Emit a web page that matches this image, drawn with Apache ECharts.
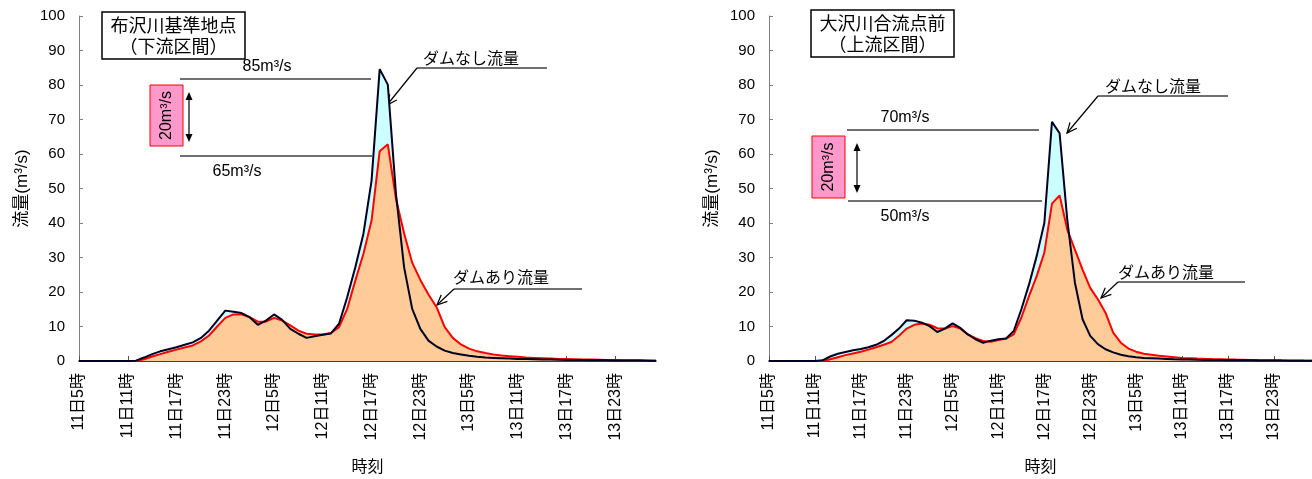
<!DOCTYPE html>
<html>
<head>
<meta charset="utf-8">
<script src="https://cdn.jsdelivr.net/npm/echarts@6/dist/echarts.min.js"></script>
<style>
  html, body { margin: 0; padding: 0; background: #fff; }
  #main { width: 1312px; height: 479px; }
</style>
</head>
<body>
<div id="main"></div>
<script>
// hourly time steps, 11日5時 .. 14日4時
const hours = [];
for (let i = 0; i < 72; i++) {
  const t = 5 + i;
  hours.push((11 + Math.floor(t / 24)) + "日" + (t % 24) + "時");
}

// 布沢川基準地点 (下流区間)
const lowerNoDam = [
  0, 0, 0, 0, 0, 0, 0, 0.1, 1.0, 2.0, 2.8, 3.4, 4.0, 4.7, 5.4, 6.7, 8.8, 11.7,
  14.6, 14.3, 13.9, 12.7, 10.5, 11.7, 13.5, 11.9, 9.3, 7.9, 6.7, 7.2, 7.6, 8.0,
  10.8, 18.5, 27.2, 36.9, 52.3, 84.6, 80.1, 48.5, 27.2, 15.1, 9.3, 5.9, 4.2, 3.0,
  2.3, 1.9, 1.5, 1.2, 1.0, 0.9, 0.8, 0.7, 0.6, 0.55, 0.5, 0.45, 0.4, 0.35, 0.32,
  0.3, 0.27, 0.25, 0.22, 0.2, 0.18, 0.15, 0.13, 0.12, 0.1, 0.1
];
const lowerWithDam = [
  0, 0, 0, 0, 0, 0, 0, 0, 0.5, 1.3, 2.0, 2.7, 3.3, 3.9, 4.5, 5.7, 7.4, 10.0,
  12.5, 13.5, 13.5, 12.7, 11.4, 11.4, 12.5, 11.7, 10.3, 8.8, 7.9, 7.7, 7.7, 8.1,
  9.8, 15.1, 23.3, 31.1, 40.7, 60.8, 62.8, 47.0, 37.0, 28.5, 23.5, 19.3, 15.6, 9.8,
  6.7, 4.8, 3.6, 2.8, 2.3, 1.9, 1.6, 1.4, 1.2, 1.0, 0.9, 0.8, 0.7, 0.6, 0.55,
  0.5, 0.45, 0.4, 0.35, 0.3, 0.3, 0.25, 0.2, 0.2, 0.15, 0.1
];

// 大沢川合流点前 (上流区間)
const upperNoDam = [
  0, 0, 0, 0, 0, 0, 0, 0.2, 1.3, 2.1, 2.6, 3.1, 3.5, 4.0, 4.7, 5.8, 7.5, 9.4,
  11.8, 11.7, 11.1, 10.1, 8.4, 9.4, 10.9, 9.6, 7.7, 6.3, 5.3, 5.9, 6.3, 6.5,
  8.7, 15.0, 22.2, 30.4, 40.0, 69.3, 66.0, 41.0, 22.7, 12.1, 7.3, 4.9, 3.4, 2.5,
  1.8, 1.4, 1.1, 0.9, 0.8, 0.7, 0.6, 0.5, 0.45, 0.4, 0.35, 0.32, 0.3, 0.28, 0.25,
  0.22, 0.2, 0.2, 0.18, 0.15, 0.15, 0.12, 0.1, 0.1, 0.1, 0.1
];
const upperWithDam = [
  0, 0, 0, 0, 0, 0, 0, 0, 0.5, 1.1, 1.7, 2.2, 2.7, 3.3, 4.0, 4.7, 5.5, 7.3,
  9.4, 10.5, 10.9, 10.5, 9.5, 9.4, 10.1, 9.4, 7.7, 6.6, 5.8, 5.6, 6.1, 6.5,
  7.7, 12.6, 18.8, 24.6, 31.4, 45.6, 48.0, 38.1, 32.3, 26.5, 21.2, 17.9, 14.0, 8.2,
  5.3, 3.6, 2.7, 2.1, 1.8, 1.5, 1.3, 1.1, 0.9, 0.8, 0.7, 0.62, 0.55, 0.5, 0.45,
  0.4, 0.36, 0.32, 0.28, 0.25, 0.22, 0.2, 0.18, 0.15, 0.12, 0.1
];

const FONT = '"Liberation Sans", "Noto Sans CJK JP", sans-serif';
const JP = '"Noto Sans CJK JP", sans-serif';

function xAxisOf(idx) {
  return {
    type: "category",
    gridIndex: idx,
    data: hours,
    boundaryGap: false,
    name: "時刻",
    nameLocation: "middle",
    nameGap: 97,
    nameTextStyle: { fontSize: 16, color: "#000", fontFamily: JP },
    axisLine: { lineStyle: { color: "#000", width: 1.5 } },
    axisTick: { inside: true, length: 5, interval: 5, lineStyle: { color: "#555" } },
    axisLabel: { interval: 5, rotate: 90, fontSize: 16, color: "#000", fontFamily: FONT, margin: 12 },
    splitLine: { show: false }
  };
}

function yAxisOf(idx) {
  return {
    type: "value",
    gridIndex: idx,
    min: 0,
    max: 100,
    interval: 10,
    name: "流量(m³/s)",
    nameLocation: "middle",
    nameGap: 48,
    nameTextStyle: { fontSize: 17, color: "#000", fontFamily: FONT },
    axisLine: { show: true, lineStyle: { color: "#808080" } },
    axisTick: { show: true, inside: true, length: 4, lineStyle: { color: "#808080" } },
    axisLabel: { fontSize: 15, color: "#000", fontFamily: FONT, margin: 14 },
    splitLine: { show: false }
  };
}

function area(idx, name, data, color) {
  return {
    name: name, type: "line", xAxisIndex: idx, yAxisIndex: idx, data: data,
    symbol: "none", silent: true,
    lineStyle: { width: 0 },
    areaStyle: { color: color, opacity: 1 }
  };
}
function line(idx, name, data, color) {
  return {
    name: name, type: "line", xAxisIndex: idx, yAxisIndex: idx, data: data,
    symbol: "none", silent: true,
    lineStyle: { color: color, width: 2 }
  };
}

// --- annotation helpers ---
function txt(x, y, text, opts) {
  return {
    type: "text", x: x, y: y,
    style: Object.assign({ text: text, fill: "#000", fontSize: 15, fontFamily: FONT, align: "center", verticalAlign: "middle" }, opts || {})
  };
}
function seg(x1, y1, x2, y2, color, w) {
  return { type: "line", shape: { x1: x1, y1: y1, x2: x2, y2: y2 }, style: { stroke: color || "#404040", lineWidth: w || 1.5 } };
}
function leader(pts, tipFrom) {
  const tip = pts[pts.length - 1];
  const a = Math.atan2(tip[1] - tipFrom[1], tip[0] - tipFrom[0]);
  const s = 11;
  const p1 = [tip[0] - s * Math.cos(a - 0.42), tip[1] - s * Math.sin(a - 0.42)];
  const p2 = [tip[0] - s * Math.cos(a + 0.42), tip[1] - s * Math.sin(a + 0.42)];
  return [
    { type: "polyline", shape: { points: pts.slice(0, 2) }, style: { stroke: "#404040", lineWidth: 1.5, fill: null } },
    { type: "polyline", shape: { points: pts.slice(1) }, style: { stroke: "#000", lineWidth: 1.2, fill: null } },
    { type: "polyline", shape: { points: [p1, tip, p2] }, style: { stroke: "#000", lineWidth: 1.2, fill: null } }
  ];
}
function doubleArrow(x, y1, y2) {
  return [
    seg(x, y1 + 4, x, y2 - 4, "#000", 1.2),
    { type: "polygon", shape: { points: [[x - 3.5, y1 + 8], [x, y1], [x + 3.5, y1 + 8]] }, style: { fill: "#000" } },
    { type: "polygon", shape: { points: [[x - 3.5, y2 - 8], [x, y2], [x + 3.5, y2 - 8]] }, style: { fill: "#000" } }
  ];
}
function titleBox(x, y, w, h, text) {
  return [
    { type: "rect", shape: { x: x, y: y, width: w, height: h }, style: { fill: "#fff", stroke: "#000", lineWidth: 1.5 } },
    txt(x + w / 2, y + h / 2, text, { fontSize: 18, fontFamily: JP, lineHeight: 21 })
  ];
}
function pinkBox(x, y, w, h) {
  return [
    { type: "rect", shape: { x: x, y: y, width: w, height: h }, style: { fill: "#FF99CC", stroke: "#FF0000", lineWidth: 1 } },
    Object.assign(txt(x + w / 2, y + h / 2, "20m³/s", { fontSize: 16 }), { rotation: Math.PI / 2 })
  ];
}

const graphics = [].concat(
  // left panel
  titleBox(102, 12, 143, 47, "布沢川基準地点\n（下流区間）"),
  seg(180, 79, 371, 79), txt(267, 67, "85m³/s", { fontSize: 16 }),
  seg(180, 156, 372, 156), txt(237, 172, "65m³/s", { fontSize: 16 }),
  pinkBox(150, 85, 33, 61),
  doubleArrow(189, 92, 142),
  txt(423, 58, "ダムなし流量", { align: "left", fontSize: 16, fontFamily: JP }),
  leader([[547, 68], [417, 68], [387, 105]], [417, 68]),
  txt(453, 277, "ダムあり流量", { align: "left", fontSize: 16, fontFamily: JP }),
  leader([[582, 289], [454, 289], [437, 305]], [454, 289]),
  // right panel
  titleBox(811, 10, 143, 47, "大沢川合流点前\n（上流区間）"),
  seg(847, 130, 1039, 130), txt(905, 118, "70m³/s", { fontSize: 16 }),
  seg(848, 201, 1042, 201), txt(905, 217, "50m³/s", { fontSize: 16 }),
  pinkBox(812, 136, 33, 62),
  doubleArrow(857, 143, 193),
  txt(1105, 86, "ダムなし流量", { align: "left", fontSize: 16, fontFamily: JP }),
  leader([[1228, 96], [1098, 96], [1067, 133]], [1098, 96]),
  txt(1118, 272, "ダムあり流量", { align: "left", fontSize: 16, fontFamily: JP }),
  leader([[1245, 282], [1118, 282], [1101, 298]], [1118, 282])
);

const myChart = echarts.init(document.getElementById("main"));
const option = {
  backgroundColor: "#fff",
  animation: false,
  grid: [
    { left: 79, top: 16, width: 577, height: 345 },
    { left: 769, top: 16, width: 552, height: 346 }
  ],
  xAxis: [xAxisOf(0), xAxisOf(1)],
  yAxis: [yAxisOf(0), yAxisOf(1)],
  series: [
    area(0, "ダムなし流量", lowerNoDam, "#CCFFFF"),
    area(0, "ダムあり流量", lowerWithDam, "#FFCC99"),
    line(0, "ダムあり流量", lowerWithDam, "#FF0000"),
    line(0, "ダムなし流量", lowerNoDam, "#000022"),
    area(1, "ダムなし流量", upperNoDam, "#CCFFFF"),
    area(1, "ダムあり流量", upperWithDam, "#FFCC99"),
    line(1, "ダムあり流量", upperWithDam, "#FF0000"),
    line(1, "ダムなし流量", upperNoDam, "#000022")
  ],
  graphic: graphics
};
myChart.setOption(option);
</script>
</body>
</html>
